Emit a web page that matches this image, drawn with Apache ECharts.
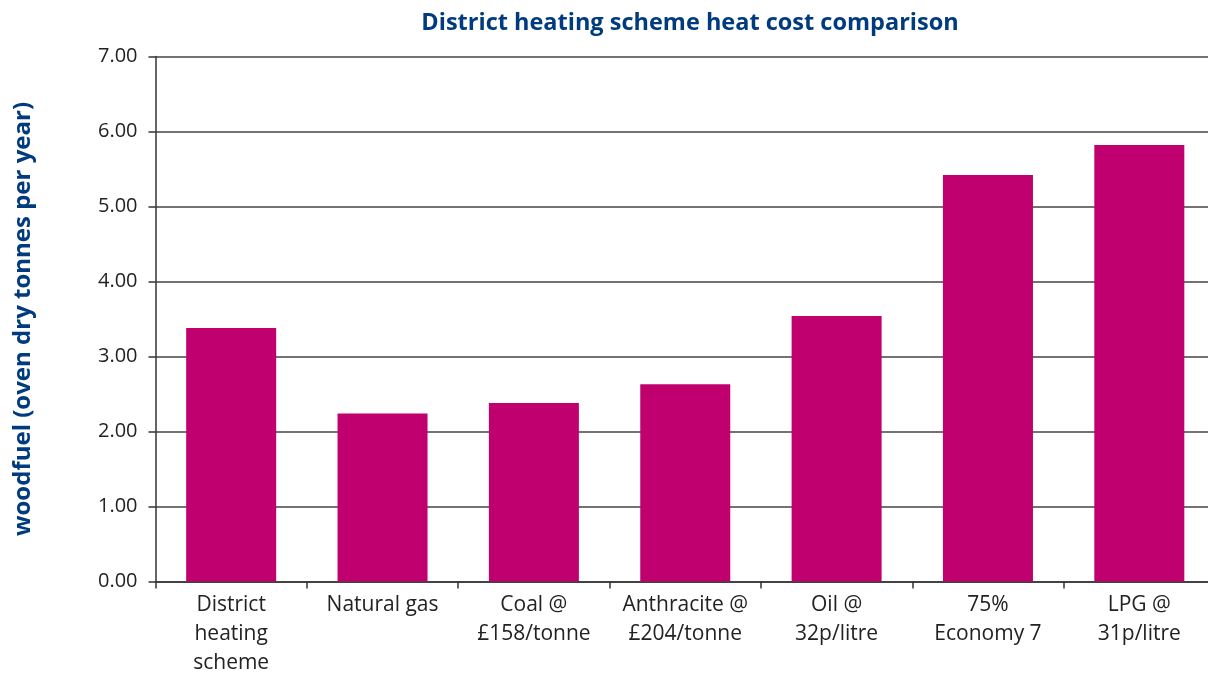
<!DOCTYPE html>
<html>
<head>
<meta charset="utf-8">
<script src="https://cdn.jsdelivr.net/npm/echarts@6/dist/echarts.min.js"></script>
<style>html,body{margin:0;padding:0;background:#fff}#c{width:1208px;height:673px}</style>
</head>
<body>
<div id="c"></div>
<script>
const titleText = 'District heating scheme heat cost comparison';
const yAxisName = 'woodfuel (oven dry tonnes per year)';
const categories = ['District\nheating\nscheme', 'Natural gas', 'Coal @\n£158/tonne', 'Anthracite @\n£204/tonne', 'Oil @\n32p/litre', '75%\nEconomy 7', 'LPG @\n31p/litre'];
const values = [3.38, 2.24, 2.38, 2.63, 3.54, 5.42, 5.82];
const yTicks = [0, 1, 2, 3, 4, 5, 6, 7];

const chart = echarts.init(document.getElementById('c'), null, {renderer: 'canvas'});
const font = 'Open Sans';
chart.setOption({
  animation: false,
  backgroundColor: '#fff',
  title: {
    text: titleText,
    left: 685, top: 6, textAlign: 'center',
    textStyle: {fontFamily: font, fontWeight: 'bold', fontSize: 23.5, color: '#003b7f'}
  },
  grid: {left: 155.5, top: 56.5, bottom: 91.5, right: -7, containLabel: false, outerBoundsMode: 'none'},
  xAxis: {
    type: 'category',
    data: categories,
    axisLine: {lineStyle: {color: '#333', width: 1.5}},
    axisTick: {show: true, length: 7, alignWithLabel: false, lineStyle: {color: '#333', width: 1.5}},
    axisLabel: {interval: 0, margin: 9, fontFamily: font, fontSize: 21, color: '#222', lineHeight: 29}
  },
  yAxis: {
    type: 'value',
    min: yTicks[0], max: yTicks[yTicks.length - 1], interval: 1,
    name: yAxisName,
    nameLocation: 'middle',
    nameRotate: 90,
    nameGap: 120,
    nameTextStyle: {fontFamily: font, fontWeight: 'bold', fontSize: 24, color: '#003b7f'},
    axisLine: {show: true, lineStyle: {color: '#333', width: 1.5}},
    axisTick: {show: true, length: 7, lineStyle: {color: '#333', width: 1.5}},
    axisLabel: {margin: 18, fontFamily: font, fontSize: 20, color: '#222', formatter: v => v.toFixed(2)},
    splitLine: {show: true, lineStyle: {color: '#444', width: 1.5}}
  },
  series: [{
    type: 'bar',
    data: values,
    barWidth: 90,
    itemStyle: {color: '#c0006f'}
  }]
});
</script>
</body>
</html>
